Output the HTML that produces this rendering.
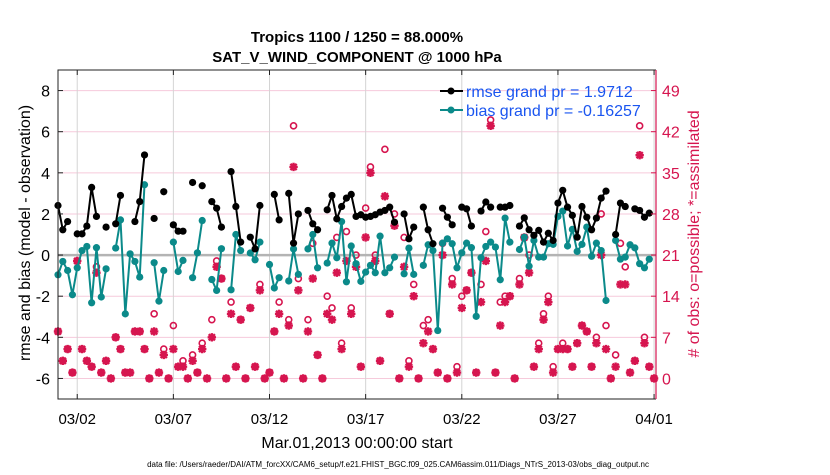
<!DOCTYPE html>
<html><head><meta charset="utf-8"><style>
body{margin:0;background:#fff;}
svg text{font-family:"Liberation Sans",Arial,sans-serif;}
</style></head><body>
<svg id="chart" width="830" height="470" viewBox="0 0 830 470" xmlns="http://www.w3.org/2000/svg">
<rect x="0" y="0" width="830" height="470" fill="#fff"/>
<text x="357" y="42" text-anchor="middle" font-size="15" font-weight="bold">Tropics 1100 / 1250 = 88.000%</text>
<text x="357" y="62" text-anchor="middle" font-size="15" font-weight="bold">SAT_V_WIND_COMPONENT @ 1000 hPa</text>
<g id="grid"></g>
<g id="obs"></g>
<g id="bias"></g>
<g id="rmse"></g>
<g id="axes"></g>
<text transform="translate(30,233) rotate(-90)" text-anchor="middle" font-size="16">rmse and bias (model - observation)</text>
<text transform="translate(699,234) rotate(-90)" text-anchor="middle" font-size="16" fill="#d6154f"># of obs: o=possible; *=assimilated</text>
<text x="357" y="448" text-anchor="middle" font-size="16">Mar.01,2013 00:00:00 start</text>
<text x="398" y="467" text-anchor="middle" font-size="8">data file: /Users/raeder/DAI/ATM_forcXX/CAM6_setup/f.e21.FHIST_BGC.f09_025.CAM6assim.011/Diags_NTrS_2013-03/obs_diag_output.nc</text>
<g>
<line x1="440" y1="91" x2="463" y2="91" stroke="#000" stroke-width="2"/>
<circle cx="451" cy="91" r="3.5" fill="#000"/>
<text x="466" y="97" font-size="16" fill="#1a55f0">rmse grand pr = 1.9712</text>
<line x1="440" y1="110" x2="463" y2="110" stroke="#0b8a8a" stroke-width="2"/>
<circle cx="451" cy="110" r="3.5" fill="#0b8a8a"/>
<text x="466" y="116" font-size="16" fill="#1a55f0">bias grand pr = -0.16257</text>
</g>
</svg>
<script>
const N=null;
const rmse=[2.41,1.23,1.63,N,1.03,1.03,1.41,3.29,1.88,N,1.36,N,1.52,2.9,N,N,1.63,2.6,4.87,N,1.78,N,3.08,N,1.47,1.16,1.16,N,3.53,N,3.37,N,2.6,2.28,1.36,N,4.06,2.36,0.63,N,0.87,0.3,2.41,N,N,2.95,1.71,N,3.0,0.58,2.0,N,2.17,1.52,1.23,N,2.2,2.9,1.76,2.36,2.77,2.95,1.88,1.96,1.84,1.88,1.96,2.09,2.17,2.33,1.6,N,2.0,0.79,1.36,N,2.33,1.23,0.55,N,2.28,1.84,1.47,N,2.33,2.25,1.41,N,2.14,2.58,2.33,N,2.33,2.33,2.41,N,1.41,1.81,1.23,0.96,1.2,0.63,1.06,0.71,2.53,3.15,2.33,1.93,0.87,2.36,1.84,1.23,1.8,2.77,3.11,N,1.0,2.53,2.36,N,2.25,2.17,1.84,2.04,N];
const bias=[-0.96,-0.31,-0.75,-1.93,-0.62,0.22,0.42,-2.32,0.36,-2.04,-0.67,N,0.34,1.71,-2.86,0.06,-0.31,-1.07,3.42,N,-0.37,-2.24,-0.75,N,0.63,-0.8,-0.26,N,-1.1,0.11,1.68,N,-1.19,-1.72,0.31,N,-1.69,1.0,0.22,N,0.1,-0.23,0.63,N,-0.46,-1.6,-1.1,N,-1.26,0.3,-0.94,N,0.3,1.0,-0.62,N,-0.39,0.58,-0.13,1.63,-1.3,0.44,-0.42,-1.28,-0.83,-0.5,-0.86,0.92,-0.86,-0.62,-0.1,N,-0.91,0.34,-0.94,N,-0.5,0.5,0.22,-3.67,0.58,0.79,0.55,-0.62,0.11,0.58,0.36,-2.98,-0.13,0.42,0.63,0.39,-1.2,1.8,0.63,N,0.27,0.87,-0.54,0.71,-0.1,-0.1,0.55,0.52,1.88,2.14,0.44,1.25,0.18,0.52,1.36,-0.06,0.58,0.22,-2.21,N,0.71,-0.2,-0.1,0.5,0.35,-0.42,-0.62,-0.2,N];
const possible=[8,3,5,1,20,5,3,2,19,1,3,0,7,5,1,1,8,8,5,0,11,1,5,0,9,2,3,0,4,1,6,0,10,20,17,0,13,2,10,0,12,2,16,0,1,8,13,0,10,43,17,0,10,23,4,0,14,12,24,6,25,12,21,2,29,36,21,3,39,11,28,0,24,3,16,0,9,10,5,1,23,0,17,2,14,15,18,1,16,25,44,1,13,14,14,0,17,24,21,2,6,11,14,2,5,6,5,2,6,9,8,2,7,28,9,0,4,23,19,1,3,43,7,2,0];
const assimilated=[8,3,5,1,20,5,3,2,18,1,3,0,7,5,1,1,8,8,5,0,8,1,4,0,5,2,2,0,3,1,5,0,7,19,17,0,11,2,10,0,12,2,15,0,1,8,11,0,9,36,15,0,8,17,4,0,11,10,18,5,20,11,19,2,24,35,20,3,31,11,26,0,19,2,14,0,6,8,5,1,21,0,16,1,12,15,18,1,13,20,43,1,9,13,14,0,16,24,18,2,5,10,13,1,5,5,5,2,6,9,8,2,6,21,5,0,2,16,16,1,3,38,6,2,0];
const xTickDays=[1,6,11,16,21,26,31];
const xTickLabels=["03/02","03/07","03/12","03/17","03/22","03/27","04/01"];
const yTicks=[-6,-4,-2,0,2,4,6,8];
const rTicks=[0,7,14,21,28,35,42,49];
const stepDays=0.25;

const L=58,R=656,T=70,B=399,XMAX=31.1,YMIN=-7,YMAX=9;
const RED="#d6154f",TEAL="#0b8a8a";
function xs(d){return L+d/XMAX*(R-L);}
function ys(v){return T+(YMAX-v)/(YMAX-YMIN)*(B-T);}
function yr(c){return ys(c/3.5-6);}
const NS="http://www.w3.org/2000/svg";
function mk(tag,at,parent){const e=document.createElementNS(NS,tag);for(const k in at)e.setAttribute(k,at[k]);parent.appendChild(e);return e;}
const grid=document.getElementById('grid'),axes=document.getElementById('axes');
yTicks.forEach(v=>{const l=mk('line',{x1:L,x2:R,y1:ys(v),y2:ys(v),stroke:'#f6cadb','stroke-width':1},grid);


const tk=mk('line',{x1:L,x2:L+5,y1:ys(v),y2:ys(v),stroke:'#222','stroke-width':1},axes);


const t=mk('text',{x:L-8,y:ys(v)+6,'text-anchor':'end','font-size':16},axes);t.textContent=v;

});
xTickDays.forEach((d,k)=>{const x=xs(d);const l=mk('line',{x1:x,x2:x,y1:T,y2:B,stroke:'#d4d4d4','stroke-width':1},grid);


[[B,B-5],[T,T+5]].forEach(p=>{const tk=mk('line',{x1:x,x2:x,y1:p[0],y2:p[1],stroke:'#222','stroke-width':1},axes);

});
const t=mk('text',{x:x,y:424,'text-anchor':'middle','font-size':15},axes);t.textContent=xTickLabels[k];

});
const z=mk('line',{x1:L,x2:R,y1:ys(0),y2:ys(0),stroke:'#b4b4b4','stroke-width':2.5},grid);


rTicks.forEach(c=>{const tk=mk('line',{x1:R-5,x2:R,y1:yr(c),y2:yr(c),stroke:RED,'stroke-width':1},axes);


const t=mk('text',{x:R+6,y:yr(c)+6,'font-size':16,fill:RED},axes);t.textContent=c;

});
const fr=mk('path',{d:`M${R},${T}H${L}V${B}H${R}`,fill:'none',stroke:'#222','stroke-width':1},axes);


const ra=mk('line',{x1:R,x2:R,y1:T,y2:B,stroke:RED,'stroke-width':1.2},axes);



const obs=document.getElementById('obs');
possible.forEach((c,i)=>{if(c==null)return;const ci=mk('circle',{cx:xs(i*stepDays),cy:yr(c),r:3,fill:'none',stroke:RED,'stroke-width':1.6},obs);

});
assimilated.forEach((c,i)=>{if(c==null)return;const x=xs(i*stepDays),y=yr(c),s=4.2,q=3.1;
const p=mk('path',{d:`M${x-s},${y}H${x+s}M${x},${y-s}V${y+s}M${x-q},${y-q}L${x+q},${y+q}M${x-q},${y+q}L${x+q},${y-q}`,stroke:RED,'stroke-width':2.4,fill:'none'},obs);

});

function series(vals,color,gid,nm){const g=document.getElementById(gid);let d='';let pen=false;
vals.forEach((v,i)=>{if(v==null){pen=false;return;}d+=(pen?'L':'M')+xs(i*stepDays).toFixed(1)+','+ys(v).toFixed(1);pen=true;});
const p=mk('path',{d:d,fill:'none',stroke:color,'stroke-width':2,'stroke-linejoin':'round'},g);


vals.forEach((v,i)=>{if(v==null)return;const c=mk('circle',{cx:xs(i*stepDays),cy:ys(v),r:3.6,fill:color},g);

});}
series(bias,TEAL,'bias','bias');
series(rmse,'#000','rmse','rmse');
</script>
</body></html>
